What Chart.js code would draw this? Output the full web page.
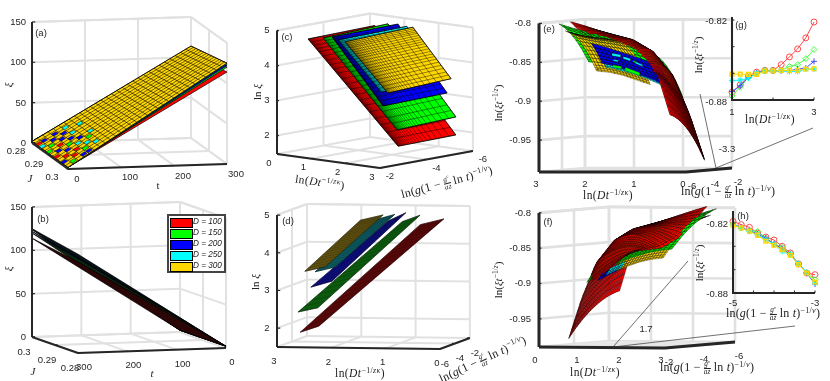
<!DOCTYPE html>
<html><head><meta charset="utf-8">
<script src="https://cdn.jsdelivr.net/npm/chart.js@4"></script>
<style>
html,body{margin:0;padding:0;background:#fff;overflow:hidden}
#wrap{position:relative;width:830px;height:381px;overflow:hidden}
canvas{position:absolute}
.t{position:absolute;white-space:nowrap;color:#262626;font:9.5px "Liberation Sans",Arial,sans-serif;line-height:1}
.m{font:11px "Liberation Serif",serif;color:#222}
.m sup{font-size:.68em;line-height:0;vertical-align:.55em}
.fr{display:inline-block;vertical-align:middle;font-size:.6em;text-align:center;line-height:1}
.fr span{display:block}.fr span+span{border-top:.5px solid #222}
#lg{position:absolute;left:167px;top:214px;width:55px;height:55px;border:2px solid #444;background:#fff}
#lg div{position:absolute;left:1px;width:21px;height:8px;border:.5px solid #000}
#lg span{position:absolute;left:24px;font:italic 8.2px "Liberation Sans",sans-serif;line-height:1;color:#222}
</style></head><body><div id="wrap"><canvas id="main" width="830" height="381" style="left:0;top:0"></canvas></div>
<script>
/* ---------- values ---------- */
const sizesD=[100,150,200,250,300];
const colorsD=['#ff0000','#00ff00','#0000ff','#00ffff','#ffd700'];
const darkD=['#560808','#0c5a0e','#0e0e78','#0c5a60','#5e5010'];
const darkB=['#2a0606','#0a260c','#070730','#06262a','#2a2408'];

/* xi (t, J): value at t=0 and t=300 for J=.28 and J=.30 */
const xiT0=[2,2,2,2,2];
const xiT300J28=[105,109,111,113,114];
const xiT300J30=[114,120,122,124,125];
const tTicks=[0,100,200,300], jTicks=[0.28,0.29,0.3], xiTicks=[0,50,100,150];
const aSpeckle=[[0,.296,2],[0,.292,0],[0,.288,1],[0,.284,3],[0,.282,0],[10,.298,1],[10,.294,0],[10,.29,2],[10,.286,1],[10,.282,2],[20,.296,0],[20,.292,2],[20,.288,0],[20,.284,2],[30,.298,2],[30,.29,1],[30,.286,2],[30,.282,2],[30,.294,0],[40,.296,1],[40,.292,3],[40,.288,2],[40,.284,2],[40,.298,2],[50,.294,3],[50,.29,2],[50,.286,3],[50,.282,3],[60,.292,1],[60,.296,3],[70,.29,3],[70,.284,3]];

/* surface corners: s0r0, s0r1, s1r0, s1r1 */
const lnDtCorners=[[.37,.42,2.59,2.59],[.81,.74,2.62,2.64],[1.07,.99,2.40,2.41],[1.28,1.31,2.33,2.33],[1.50,1.52,2.52,2.52]];
const lnGCorners=[[-2.79,-5.59,-3.39,-5.87],[-2.78,-5.68,-3.30,-5.80],[-2.79,-5.74,-3.02,-5.76],[-2.75,-5.65,-3.05,-5.77],[-2.71,-5.60,-3.05,-5.77]];
const lnXiCorners=[[4.71,4.76,1.87,1.89],[4.80,4.84,2.35,2.42],[4.86,4.86,3.04,3.08],[4.81,4.85,3.42,3.49],[4.79,4.86,3.42,3.50]];
const lnDtTicks=[0,1,2,3], lnGTicks=[-6,-4,-2], lnXiTicks=[2,3,4,5];

/* scaled quantity ln(xi t^-1/z) over the same (lnDt, lnG) surfaces */
const redDtCorners=[.37,.42,2.41,2.41], redGCorners=[-2.8,-5.6,-3.3,-5.8];
const scaledS=[[0,.135,.29,.48,.67,.86,1],[0,.25,.5,.75,1],[0,.25,.5,.75,1],[0,.25,.5,.75,1],[0,.25,.5,.75,1]];
const scaledR0=[[-.98,-.924,-.873,-.841,-.825,-.818,-.813],[-.90,-.879,-.866,-.857,-.853],[-.893,-.882,-.874,-.866,-.861],[-.887,-.879,-.873,-.868,-.864],[-.883,-.877,-.871,-.867,-.865]];
const scaledR5=[[-.938,-.889,-.855,-.836,-.827,-.817,-.805],[-.86,-.847,-.838,-.828,-.82],[-.852,-.842,-.835,-.828,-.822],[-.846,-.839,-.834,-.829,-.825],[-.84,-.836,-.833,-.83,-.827]];
const scaledR1=[[-.918,-.862,-.86,-.857,-.843,-.817,-.798],[-.84,-.825,-.817,-.81,-.801],[-.835,-.825,-.818,-.813,-.808],[-.828,-.822,-.817,-.813,-.809],[-.822,-.82,-.818,-.815,-.81]];
const scaledTicks=[-.95,-.9,-.85,-.8];
/* flecks of other surfaces showing through in (e): surface, lnDt0, z0, lnDt1, z1, thickness */
const ePatches=[[1,1.96,-.856,1.78,-.858,.003],[1,1.71,-.859,1.41,-.866,.004],[1,1.55,-.85,1.45,-.853,.002],[3,1.98,-.841,1.8,-.843,.003],[3,1.75,-.845,1.6,-.848,.003],[3,1.95,-.849,1.85,-.85,.002],[3,1.5,-.852,1.35,-.856,.002]];
/* curves along which the D=100 sheet passes in front of the others, as seen in (e) and (f) */
const eOcclusionX=[570,587,607,633,650,663,669], eOcclusionY=[22,32,37,47,63,90,115];
const fOcclusionX=[592,613,630,663,677,690,705], fOcclusionY=[280,267,253,248,238,222,210];

/* insets */
const gX=[1,1.2,1.4,1.6,1.8,2,2.2,2.4,2.6,2.8,3];
const gSeries=[
[-.8742,-.8687,-.8618,-.8591,-.8578,-.8578,-.8535,-.8477,-.8417,-.8334,-.8215],
[-.877,-.8704,-.8629,-.8598,-.8578,-.8581,-.8578,-.8548,-.8535,-.849,-.8422],
[-.8737,-.8694,-.8629,-.8598,-.8581,-.8583,-.8581,-.8581,-.8568,-.8561,-.851],
[-.8654,-.8651,-.8636,-.8603,-.8583,-.8581,-.8581,-.8586,-.8586,-.8568,-.8568],
[-.8606,-.8606,-.8608,-.8608,-.8583,-.8583,-.8578,-.8578,-.8578,-.8568,-.8566]];
const hX=[-5,-4.8,-4.6,-4.4,-4.2,-4,-3.8,-3.6,-3.4,-3.2,-3];
const hSeries=[
[-.8186,-.8214,-.8237,-.8286,-.832,-.8346,-.84,-.8457,-.8551,-.8629,-.8643],
[-.8209,-.8243,-.8266,-.8271,-.8329,-.838,-.8409,-.8466,-.8551,-.8629,-.8686],
[-.8214,-.8237,-.8266,-.8294,-.8329,-.838,-.842,-.8471,-.8551,-.8629,-.8723],
[-.8214,-.8243,-.8271,-.83,-.8343,-.838,-.8443,-.8471,-.8551,-.8623,-.8714],
[-.822,-.8243,-.8271,-.8306,-.8357,-.8391,-.8429,-.8477,-.8557,-.8629,-.8706]];
const insetStyles=['circle','rectRot','cross','star','rect'];
const insetColors=['#ff4a4a','#45ff45','#4a4aff','#10f5f5','#ffd700'];

/* mesh spacing */
const meshR=[0,.008,.016,.025,.035,.046,.058,.072,.088,.106,.126,.148,.174,.204,.238,.276,.32,.37,.43,.5,.58,.67,.77,.88,1];
const meshS=[0,.03,.06,.09,.12,.16,.2,.24,.28,.32,.37,.42,.47,.52,.57,.62,.68,.74,.8,.87,.93,1];
const meshRred=[0,.006,.012,.018,.025,.032,.04,.05,.06,.075,.09,.11,.13,.16,.19,.23,.27,.31,.35,.39,.43,.47,.51,.55,.59,.63,.67,.71,.75,.79,.83,.87,.91,.95,1];
const meshRother=[0,.02,.05,.09,.14,.2,.27,.35,.44,.54,.65,.77,.88,1];
const meshSred=[0,.03,.06,.09,.12,.15,.18,.21,.24,.27,.3,.33,.36,.39,.42,.45,.48,.52,.56,.6,.64,.68,.72,.76,.8,.84,.88,.92,.96,1];
const meshSother=[0,.06,.12,.18,.24,.3,.36,.42,.48,.54,.6,.66,.72,.78,.84,.9,.96,1];

/* ---------- projections (view of each 3-D box) ---------- */
const projA=(t,J,z)=>[32+t*159/300+(J-.28)/.02*36,143-t*5/300+(J-.28)/.02*26-z*121/150];
const projB=(t,J,z)=>[32+(300-t)/300*148+(.3-J)/.02*46,337-(300-t)/300*5+(.3-J)/.02*16-z*130/150];
const projC=(x,y,z)=>[277+x*34.3+(-2-y)*23.25,154+x*4.67-(-2-y)*4.25-(z-1.47)*35];
const projD=(x,y,z)=>[277+(3-x)*54.3+(y+6)*7.5,347+(3-x)*.67-(y+6)*2.75-(z-1.5)*37.7];
const projE=(x,y,z)=>[539+(3-x)*49+(y+6)*11.5,172-(y+6)-(z+.991)*778];
const projF=(x,y,z)=>[539+x*42+(-2-y)*17.5,347+x*.33-(-2-y)*1.5-(z+.99)*706];

/* ---------- dataset builders ---------- */
const layers=[];
function line(pts,color,w,cap){layers.push({type:'scatter',showLine:true,data:pts.map(p=>({x:p[0],y:p[1]})),borderColor:color,borderWidth:w,pointRadius:0,fill:false,tension:0,borderCapStyle:cap||'butt',spanGaps:false});}
function poly(pts,fill,stroke,w){const c=pts.concat([pts[0]]);layers.push({type:'scatter',showLine:stroke?true:false,polyFill:fill,data:c.map(p=>({x:p[0],y:p[1]})),borderColor:stroke||'transparent',borderWidth:w||0,pointRadius:0,fill:false,tension:0});}
const GAP=[NaN,NaN];
function box(P,aT,bT,zT,aR,bR,zR,bWall,aWall,zAxisAB,aAxisB,bAxisA,gw,aw){
  const g='#e1e1e1';
  aT.forEach(a=>{line([P(a,bR[0],zR[0]),P(a,bR[1],zR[0])],g,gw);line([P(a,bWall,zR[0]),P(a,bWall,zR[1])],g,gw);});
  bT.forEach(b=>{line([P(aR[0],b,zR[0]),P(aR[1],b,zR[0])],g,gw);line([P(aWall,b,zR[0]),P(aWall,b,zR[1])],g,gw);});
  zT.concat([zR[1]]).forEach(z=>{line([P(aR[0],bWall,z),P(aR[1],bWall,z)],g,gw);line([P(aWall,bR[0],z),P(aWall,bR[1],z)],g,gw);});
  const tail=[];
  tail.push([[P(zAxisAB[0],zAxisAB[1],zR[0]),P(zAxisAB[0],zAxisAB[1],zR[1])],aw]);
  tail.push([[P(aR[0],aAxisB,zR[0]),P(aR[1],aAxisB,zR[0])],aw]);
  tail.push([[P(bAxisA,bR[0],zR[0]),P(bAxisA,bR[1],zR[0])],aw]);
  return ()=>{tail.forEach(s=>line(s[0],'#262626',s[1]));
    const db=(bR[1]-bR[0])*.025*(aAxisB===bR[0]?1:-1), da=(aR[1]-aR[0])*.018*(bAxisA===aR[0]?1:-1);
    aT.forEach(a=>line([P(a,aAxisB,zR[0]),P(a,aAxisB+db,zR[0])],'#262626',1.2));
    bT.forEach(b=>line([P(bAxisA,b,zR[0]),P(bAxisA+da,b,zR[0])],'#262626',1.2));
    const dz=(aR[1]-aR[0])*.02*(zAxisAB[0]===aR[0]?1:-1);
    zT.forEach(z=>line([P(zAxisAB[0],zAxisAB[1],z),P(zAxisAB[0]+dz,zAxisAB[1],z)],'#262626',1.2));
  };
}
const flat=(c,s,r)=>(c[0]*(1-r)+c[1]*r)*(1-s)+(c[2]*(1-r)+c[3]*r)*s;
function flatSurface(P,A,B,C,fill,sL,rL,meshColor,meshW,edge){
  const f=(s,r)=>P(flat(A,s,r),flat(B,s,r),flat(C,s,r));
  poly([f(0,0),f(0,1),f(1,1),f(1,0)],fill);
  if(sL){const m=[];sL.forEach(s=>{m.push(f(s,0),f(s,1),GAP);});rL.forEach(r=>{m.push(f(0,r),f(1,r),GAP);});line(m,meshColor,meshW);}
  line([f(0,0),f(0,1),f(1,1),f(1,0),f(0,0)],edge||'#000',.7);
}

/* panel (a) */
const boxAfin=box(projA,tTicks,jTicks,xiTicks,[0,300],[.28,.3],[0,150],.28,300,[0,.28],.3,0,2,2);
const tLines=[],jLines=[];for(let i=0;i<=30;i++)tLines.push(i/30);for(let i=0;i<=14;i++)jLines.push(i/14);
sizesD.forEach((d,i)=>{
  const A=[0,0,300,300],B=[.28,.3,.28,.3],C=[xiT0[i],xiT0[i],xiT300J28[i],xiT300J30[i]];
  flatSurface(projA,A,B,C,colorsD[i],i===4?tLines:null,i===4?jLines:null,'rgba(0,0,0,.95)',.6);
  if(i===4) aSpeckle.forEach(c=>{const pt=(t,J)=>projA(t,J,xiT0[4]+(t/300)*(xiT300J28[4]+(J-.28)/.02*(xiT300J30[4]-xiT300J28[4])-xiT0[4]));
    poly([pt(c[0],c[1]),pt(c[0]+8,c[1]),pt(c[0]+8,c[1]+.0014),pt(c[0],c[1]+.0014)],colorsD[c[2]],'rgba(0,0,0,.85)',.5);});
});
boxAfin();
/* panel (b) */
const boxBfin=box(projB,tTicks,jTicks,xiTicks,[0,300],[.28,.3],[0,150],.3,0,[300,.3],.28,300,2,2);
[4,3,2,1,0].forEach(i=>{
  const A=[0,0,300,300],B=[.28,.3,.28,.3],C=[xiT0[i],xiT0[i],xiT300J28[i],xiT300J30[i]];
  flatSurface(projB,A,B,C,darkB[i],null,null,null,0,'#000');
});
boxBfin();
/* panel (c) */
const boxCfin=box(projC,lnDtTicks,lnGTicks,lnXiTicks,[0,3],[-6,-2],[1.47,5],-6,0,[0,-2],-2,3,2,2);
sizesD.forEach((d,i)=>flatSurface(projC,lnDtCorners[i],lnGCorners[i],lnXiCorners[i],colorsD[i],meshS,meshR,'rgba(0,0,0,.85)',.5));
boxCfin();
/* panel (d) */
const boxDfin=box(projD,lnDtTicks,lnGTicks,lnXiTicks,[0,3],[-6,-2],[1.5,5],-2,3,[3,-6],-6,0,2,2);
sizesD.forEach((d,i)=>flatSurface(projD,lnDtCorners[i],lnGCorners[i],lnXiCorners[i],darkD[i],meshS,[],'rgba(0,0,0,.35)',.5,darkB[i]));
boxDfin();

/* curved surfaces */
function lerpTable(grid,vals,s){for(let k=0;k<grid.length-1;k++){if(s<=grid[k+1]){const u=(s-grid[k])/(grid[k+1]-grid[k]);return vals[k]*(1-u)+vals[k+1]*u;}}return vals[vals.length-1];}
function curvedPoint(i,s,r,shift){
  const X=i===0?redDtCorners:lnDtCorners[i],Y=i===0?redGCorners:lnGCorners[i];
  const z0=lerpTable(scaledS[i],scaledR0[i],s),z5=lerpTable(scaledS[i],scaledR5[i],s),z1=lerpTable(scaledS[i],scaledR1[i],s);
  const z=z0*(1-r)*(1-2*r)+z5*4*r*(1-r)+z1*r*(2*r-1);
  return [flat(X,s,r),flat(Y,s,r),z+(shift||0)*(1-r)];
}
function curvedQuads(i,P,sL,rL,r0,r1,shift,sMax){
  const out=[];
  for(let a=0;a<rL.length-1;a++){ if(rL[a]<(r0||0)-1e-9||rL[a+1]>(r1==null?1:r1)+1e-9)continue;
    for(let b=0;b<sL.length-1;b++){ if(sMax!=null&&sL[b+1]>sMax)continue;
      const q=[[sL[b],rL[a]],[sL[b],rL[a+1]],[sL[b+1],rL[a+1]],[sL[b+1],rL[a]]].map(u=>curvedPoint(i,u[0],u[1],shift));
      out.push({pts:q.map(p=>P(p[0],p[1],p[2])),c:colorsD[i],i});
    }}
  return out;
}
function drawQuads(qs){qs.forEach(q=>{
  const e=(a,b)=>Math.hypot(a[0]-b[0],a[1]-b[1]),p=q.pts,len=Math.min(e(p[0],p[1])+e(p[2],p[3]),e(p[1],p[2])+e(p[3],p[0]))/2;
  const al=Math.min(.9,.28+len*.2);
  poly(p,q.c,'rgba(0,0,0,'+al.toFixed(2)+')',.45);});}
const curveY=(xs,ys,X)=>{for(let k=0;k<xs.length-1;k++){if(X<=xs[k+1]){const u=(X-xs[k])/(xs[k+1]-xs[k]);return ys[k]*(1-u)+ys[k+1]*u;}}return ys[ys.length-1];};
const centroid=q=>[(q.pts[0][0]+q.pts[1][0]+q.pts[2][0]+q.pts[3][0])/4,(q.pts[0][1]+q.pts[1][1]+q.pts[2][1]+q.pts[3][1])/4];
/* panel (e) */
const boxEfin=box(projE,lnDtTicks,lnGTicks,scaledTicks,[0,3],[-6,-2],[-.991,-.8],-2,3,[3,-6],-6,0,2.6,3);
const redE=curvedQuads(0,projE,meshSred,meshRred);
drawQuads(redE);
drawQuads(curvedQuads(1,projE,meshSother,meshRother));
drawQuads(curvedQuads(4,projE,meshSother,meshRother));
drawQuads(curvedQuads(3,projE,meshSother,[0,.02,.05],0,.05,.004));
drawQuads(curvedQuads(2,projE,meshSother,meshRother,.02,.35,.004));
ePatches.forEach(p=>poly([projE(p[1],-4,p[2]),projE(p[3],-4,p[4]),projE(p[3],-4,p[4]-p[5]),projE(p[1],-4,p[2]-p[5])],colorsD[p[0]],'rgba(0,0,0,.6)',.4));
drawQuads(redE.filter(q=>{const c=centroid(q);return c[0]>=eOcclusionX[eOcclusionX.length-1]||c[1]<curveY(eOcclusionX,eOcclusionY,c[0]);}));
boxEfin();
/* panel (f) */
const boxFfin=box(projF,lnDtTicks,lnGTicks,scaledTicks,[0,3],[-6,-2],[-.99,-.8],-6,0,[0,-2],-2,3,2.6,3);
poly([projF(0,-2,-.99),projF(3,-2,-.99),projF(3,-6,-.99),projF(0,-6,-.99)],'rgba(232,232,232,.7)');
const redF=curvedQuads(0,projF,meshSred,meshRred);
drawQuads(redF);
drawQuads(curvedQuads(4,projF,meshSother,meshRother));
drawQuads(curvedQuads(1,projF,meshSother,meshRother));
drawQuads(curvedQuads(2,projF,meshSother,meshRother,0,.09,-.004,.3));
drawQuads(curvedQuads(3,projF,meshSother,meshRother,0,.09,-.002,.3));
drawQuads(redF.filter(q=>{const c=centroid(q);return c[0]>=fOcclusionX[0]&&c[1]<curveY(fOcclusionX,fOcclusionY,c[0]);}));
boxFfin();
/* call-out lines towards the insets */
const eCall=[[700,94],[716,168],[813,128]], fCall=[[688,261],[613,347],[795,326]];
line(eCall,'#333',.7);line(fCall,'#333',.7);

const polyPlugin={id:'polyFill',beforeDatasetDraw(chart,args){
  const ds=chart.data.datasets[args.index];if(!ds.polyFill)return;
  const pts=args.meta.data,ctx=chart.ctx;if(!pts.length)return;
  ctx.save();ctx.beginPath();pts.forEach((p,i)=>i?ctx.lineTo(p.x,p.y):ctx.moveTo(p.x,p.y));ctx.closePath();ctx.fillStyle=ds.polyFill;ctx.fill();ctx.restore();
}};
/* Chart.js paints the first dataset last, so the list is reversed */
new Chart(document.getElementById('main'),{type:'scatter',data:{datasets:layers.slice().reverse()},plugins:[polyPlugin],
 options:{responsive:false,animation:false,events:[],layout:{padding:0},plugins:{legend:{display:false},tooltip:{enabled:false}},
  scales:{x:{type:'linear',min:0,max:830,display:false},y:{type:'linear',min:0,max:381,reverse:true,display:false}}}});

/* insets */
function inset(left,top,w,h,xs,series,xT,yMax,topExtra){
  const pad=8,c=document.createElement('canvas');c.width=w+2*pad;c.height=h+2*pad+topExtra;
  c.style.left=(left-pad)+'px';c.style.top=(top-pad-topExtra)+'px';document.getElementById('wrap').appendChild(c);
  const axisPlugin={id:'axes',afterDraw(ch){const x=ch.scales.x,y=ch.scales.y,a=ch.ctx,A=ch.chartArea;a.save();a.strokeStyle='#262626';a.lineWidth=2;
    a.beginPath();a.moveTo(A.left,A.top-(topExtra?topExtra:3));a.lineTo(A.left,A.bottom);a.lineTo(A.right,A.bottom);a.stroke();a.lineWidth=1;a.beginPath();
    [-.88,-.86,-.84,-.82].forEach(v=>{a.moveTo(A.left,y.getPixelForValue(v));a.lineTo(A.left+2.5,y.getPixelForValue(v));});
    xT.forEach(v=>{a.moveTo(x.getPixelForValue(v),A.bottom);a.lineTo(x.getPixelForValue(v),A.bottom-2.5);});a.stroke();a.restore();}};
  new Chart(c,{type:'scatter',plugins:[axisPlugin],data:{datasets:series.map((v,i)=>({data:xs.map((x,k)=>({x,y:v[k]})),showLine:true,borderColor:insetColors[i],borderWidth:1,pointStyle:insetStyles[i],pointRadius:i===4?2.6:3,pointBorderColor:insetColors[i],pointBackgroundColor:'rgba(0,0,0,0)',pointBorderWidth:i===4?1.4:1,clip:false,order:-i}))},
   options:{responsive:false,animation:false,events:[],layout:{padding:{left:pad,right:pad,top:pad+topExtra,bottom:pad}},plugins:{legend:{display:false},tooltip:{enabled:false}},
    scales:{x:{type:'linear',min:xs[0],max:xs[xs.length-1],display:false},y:{type:'linear',min:-.88,max:yMax,display:false}}}});
}
inset(732,20,82,80,gX,gSeries,[1,2,3],-.82,0);
inset(733,223,82,70,hX,hSeries,[-5,-4.5,-4,-3.5,-3],-.82,12);

/* ---------- text ---------- */
const W=document.getElementById('wrap');
function txt(html,x,y,o){o=o||{};const e=document.createElement('div');e.className='t'+(o.m?' m':'');e.innerHTML=html;
  e.style.left=x+'px';e.style.top=y+'px';if(o.size)e.style.fontSize=o.size+'px';if(o.ls)e.style.letterSpacing=o.ls+'px';
  e.style.transform='translate('+(o.right?'-100%':'-50%')+',-50%)'+(o.rot?' rotate('+o.rot+'deg)':'');W.appendChild(e);}
const ticksOn=(vals,fn,dx,dy,o)=>vals.forEach(v=>{const p=fn(v);txt(String(v),p[0]+dx,p[1]+dy,o);});
const zRight=(vals,fn,x)=>vals.forEach(v=>txt(String(v),x,fn(v)[1],{right:true}));
const lnDt='ln(<i>Dt</i><sup>−1/<i>zκ</i></sup>)';
const frac='<span class="fr"><span><i>g</i><sup>c</sup></span><span><i>az</i></span></span>';
const lnG='ln(<i>g</i>(1 − '+frac+' ln <i>t</i>)<sup>−1/<i>v</i></sup>)';
const lnXi='ln <i>ξ</i>', lnXt='ln(<i>ξt</i><sup>−1/<i>z</i></sup>)';
const DT={m:1,size:11.5,ls:.4}, GG={m:1,size:12,ls:.2};
/* a */
zRight(xiTicks,z=>projA(0,.28,z),26);ticksOn(jTicks,J=>projA(0,J,0),-16,8);ticksOn(tTicks,t=>projA(t,.3,0),9,10);
txt('<i>ξ</i>',8,85,{m:1,rot:-90});txt('<i>J</i>',30,178,{m:1});txt('t',158,185,{m:1});txt('(a)',41,33);
/* b */
zRight(xiTicks,z=>projB(300,.3,z),26);ticksOn(jTicks,J=>projB(300,J,0),-8,14.5);ticksOn(tTicks,t=>projB(t,.28,0),6,14);
txt('<i>ξ</i>',8,269,{m:1,rot:-90});txt('<i>J</i>',33,371,{m:1});txt('<i>t</i>',152,373,{m:1});txt('(b)',43,219);
/* c */
lnXiTicks.forEach(z=>txt(String(z),267,projC(0,-2,z)[1]));ticksOn(lnDtTicks,x=>projC(x,-2,1.47),-8,8.5);ticksOn(lnGTicks,y=>projC(3,y,1.47),10,8);
txt(lnXi,257,92,{m:1,rot:-90});txt(lnDt,320,182,Object.assign({rot:8},DT));txt(lnG,447,183,Object.assign({rot:-15},GG));txt('(c)',287,37);
/* d */
lnXiTicks.forEach(z=>txt(String(z),267,projD(3,-6,z)[1]));ticksOn(lnDtTicks,x=>projD(x,-6,1.5),-3,14);ticksOn(lnGTicks,y=>projD(0,y,1.5),5,14.5);
txt(lnXi,255,282,{m:1,rot:-90});txt(lnDt,360,373,DT);txt(lnG,483,360,Object.assign({rot:-25},GG));txt('(d)',288,221);
/* e */
zRight(scaledTicks,z=>projE(3,-6,z),531);ticksOn(lnDtTicks,x=>projE(x,-6,-.991),-3,12);ticksOn(lnGTicks,y=>projE(0,y,-.991),6,13.5);
txt(lnXt,498,103,{m:1,rot:-90});txt(lnDt,608,195,DT);txt(lnG,728,192,GG);txt('(e)',549,29);txt('-3.3',727,149);
/* f */
zRight(scaledTicks,z=>projF(0,-2,z),531);ticksOn(lnDtTicks,x=>projF(x,-2,-.99),-4,12.5);ticksOn(lnGTicks,y=>projF(3,y,-.99),4,14);
txt(lnXt,498,280,{m:1,rot:-90});txt(lnDt,595,372,DT);txt(lnG,707,368,GG);txt('(f)',548,222);txt('1.7',646,329);
/* g, h */
txt('-0.82',727,21,{right:true});txt('-0.88',727,102,{right:true});txt('1',732,112);txt('3',814,112);txt('(g)',741,25);txt(lnXt,698,55,{m:1,rot:-90});txt(lnDt,770,119,DT);
txt('-0.82',728,224,{right:true});txt('-0.88',728,294,{right:true});txt('-5',733,303);txt('-3',815,303);txt('(h)',743,216);txt(lnXt,699,263,{m:1,rot:-90});txt(lnG,773,314,GG);
/* legend */
const lg=document.createElement('div');lg.id='lg';W.appendChild(lg);
sizesD.forEach((d,i)=>{const s=document.createElement('div');s.style.top=(2+i*11)+'px';s.style.background=colorsD[i];lg.appendChild(s);
  const t=document.createElement('span');t.style.top=(2+i*11)+'px';t.textContent='D = '+d;lg.appendChild(t);});
</script></body></html>
